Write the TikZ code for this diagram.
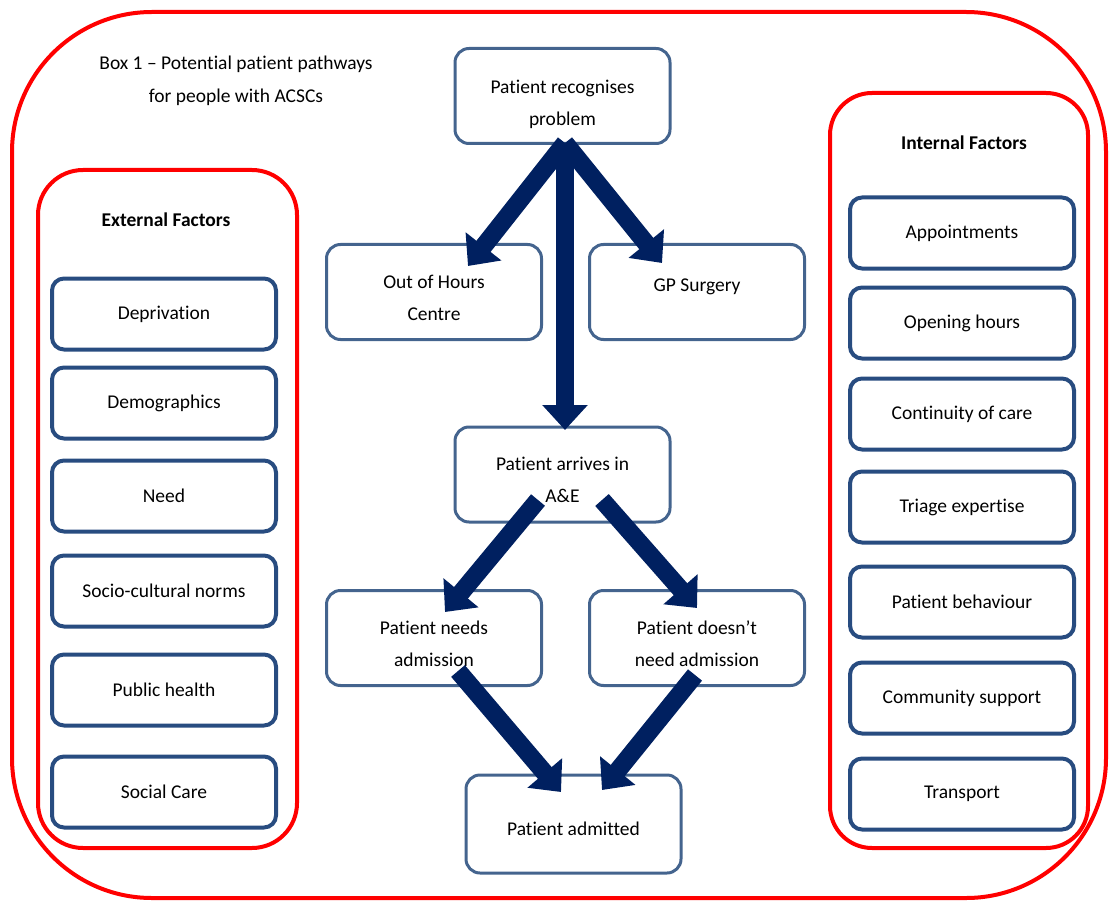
\documentclass[tikz,border=0pt]{standalone}
\usepackage{fontspec}
\setmainfont{Carlito}[Ligatures=CommonOff]
\usetikzlibrary{arrows.meta}
\definecolor{boxred}{RGB}{255,0,0}
\definecolor{factorblue}{RGB}{40,76,128}
\definecolor{flowblue}{RGB}{68,100,142}
\definecolor{navy}{RGB}{0,32,96}
\newcommand\tsp[1]{\rule{0pt}{#1}}
\tikzset{
  redframe/.style={draw=boxred, line width=4pt},
  factorbox/.style={draw=factorblue, line width=4pt, rounded corners=12pt, fill=white,
    minimum width=224pt, minimum height=71pt, inner sep=0pt, align=center,
    font=\fontsize{19.5}{32}\selectfont},
  flowbox/.style={draw=flowblue, line width=3pt, rounded corners=14pt, fill=white,
    minimum width=215pt, minimum height=95pt, inner sep=0pt, align=center,
    font=\fontsize{19.5}{32}\selectfont},
  headtext/.style={font=\fontsize{19.5}{32}\selectfont\bfseries, inner sep=0pt},
  titletext/.style={font=\fontsize{19.5}{33}\selectfont, align=center, inner sep=0pt},
  bigarrow/.style={draw=navy, line width=18pt,
    -{Triangle[width=44pt,length=25pt]}},
}
\begin{document}
\begin{tikzpicture}[x=1pt,y=-1pt]
\useasboundingbox (0,0) rectangle (1110,901);
% frames
\draw[redframe, rounded corners=140pt] (12,12) rectangle (1106,898);
\draw[redframe, rounded corners=45pt] (38,170) rectangle (297,848);
\draw[redframe, rounded corners=42pt] (830,93) rectangle (1088,848);
% title and headings
\node[titletext] (title) at (236,80.5) {Box 1 -- Potential patient pathways\\for people with ACSCs};
\node[headtext] (exthead) at (166,220) {External Factors};
\node[headtext] (inthead) at (964,143) {Internal Factors};
% external factors
\node[factorbox] (depr) at (164,314) {Deprivation};
\node[factorbox] (demo) at (164,403) {Demographics};
\node[factorbox] (need) at (164,496) {Need};
\node[factorbox] (socio) at (164,591) {Socio-cultural norms};
\node[factorbox] (pubh) at (164,690) {Public health};
\node[factorbox] (socc) at (164,792) {Social Care};
% internal factors
\node[factorbox] (appt) at (962,233) {Appointments};
\node[factorbox] (open) at (962,323) {Opening hours};
\node[factorbox] (cont) at (962,414) {Continuity of care};
\node[factorbox] (tria) at (962,507) {Triage expertise};
\node[factorbox] (pbeh) at (962,602) {Patient behaviour};
\node[factorbox] (comm) at (962,698) {Community support};
\node[factorbox] (tran) at (962,794) {Transport};
% pathway
\node[flowbox] (recog) at (562.5,96) {\tsp{30pt}Patient recognises\\problem};
\node[flowbox] (ooh) at (434,292) {\tsp{26pt}Out of Hours\\Centre};
\node[flowbox] (gp) at (697,292) {\tsp{40pt}GP Surgery\\\strut};
\node[flowbox] (ae) at (562.5,474.5) {\tsp{25pt}Patient arrives in\\A\&E};
\node[flowbox] (needs) at (434,638) {\tsp{26pt}Patient needs\\admission};
\node[flowbox] (noneed) at (697,638) {\tsp{26pt}Patient doesn’t\\need admission};
\node[flowbox, minimum height=98pt] (adm) at (573.5,824) {\tsp{24pt}Patient admitted};
% arrow points
\coordinate (tipooh) at (468,266);
\coordinate (tipgp) at (662,263);
\coordinate (tipae) at (565,430);
\coordinate (aeL) at (538,500);
\coordinate (aeR) at (602,500);
\coordinate (tipneeds) at (445,612);
\coordinate (tipnoneed) at (697,608);
\coordinate (needsS) at (458,671);
\coordinate (noneedS) at (695,675);
\coordinate (tipadmL) at (561,792);
\coordinate (tipadmR) at (602,790);
\coordinate (recogS) at (565,143);
% arrows
\draw[bigarrow] (recogS) -- (tipooh);
\draw[bigarrow] (recogS) -- (tipgp);
\draw[bigarrow] (recogS) -- (tipae);
\draw[bigarrow] (aeL) -- (tipneeds);
\draw[bigarrow] (aeR) -- (tipnoneed);
\draw[bigarrow] (needsS) -- (tipadmL);
\draw[bigarrow] (noneedS) -- (tipadmR);
\end{tikzpicture}
\end{document}
